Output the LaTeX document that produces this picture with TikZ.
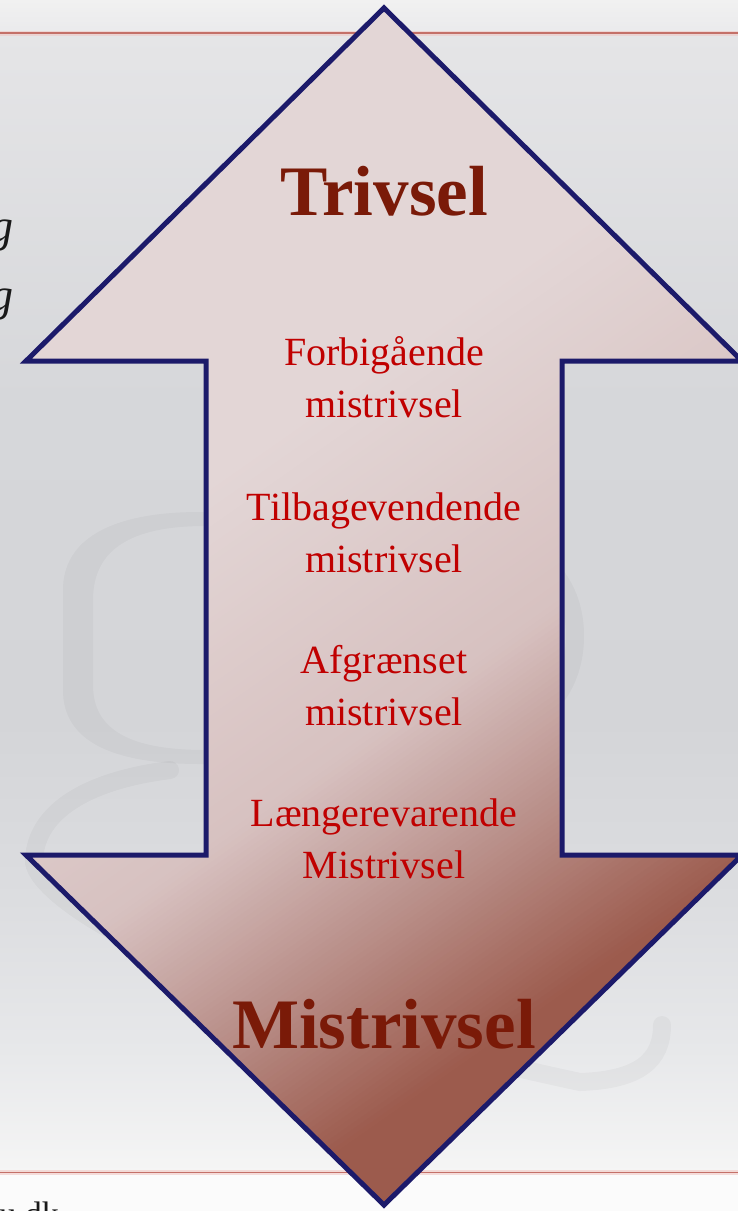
\documentclass[tikz,border=0pt]{standalone}
\usepackage{fontspec}
\setmainfont{Liberation Serif}
\definecolor{navyline}{RGB}{28,26,106}
\definecolor{darkred}{RGB}{122,26,8}
\definecolor{itemred}{RGB}{192,0,0}
\definecolor{redrule}{RGB}{196,112,104}
\definecolor{redhalo}{RGB}{240,200,196}
\definecolor{bgA}{RGB}{241,241,241}
\definecolor{bgB}{RGB}{234,234,236}
\definecolor{bgC}{RGB}{229,229,231}
\definecolor{bgD}{RGB}{214,215,218}
\definecolor{bgE}{RGB}{212,213,216}
\definecolor{bgF}{RGB}{220,221,224}
\definecolor{bgG}{RGB}{231,232,234}
\definecolor{bgH}{RGB}{245,245,245}
\definecolor{bgI}{RGB}{251,251,251}
\definecolor{gA}{RGB}{227,214,214}
\definecolor{gB}{RGB}{215,193,192}
\definecolor{gC}{RGB}{185,143,137}
\definecolor{gD}{RGB}{156,91,77}
\tikzset{
  rulestyle/.style={redrule, line width=1.8},
  halostyle/.style={redhalo, line width=5},
  wmark/.style={black, opacity=0.03},
  arrowline/.style={navyline, line width=5, line join=miter},
  bigword/.style={darkred, font=\fontsize{71}{80}\selectfont\bfseries, inner sep=0pt, anchor=base},
  itemtext/.style={itemred, font=\fontsize{40}{52}\selectfont, align=center, inner sep=0pt, anchor=base},
  gfrag/.style={black!90, font=\fontsize{46}{52}\selectfont\itshape, inner sep=0pt, anchor=base east},
  urltext/.style={black!90, font=\fontsize{34}{40}\selectfont, inner sep=0pt, anchor=base east}
}
\begin{document}
\begin{tikzpicture}[x=1pt,y=-1pt]
\useasboundingbox (0,0) rectangle (738,1211);
\clip (0,0) rectangle (738,1211);
% background
\shade[top color=bgA, bottom color=bgB] (0,0) rectangle (738,33);
\shade[top color=bgC, bottom color=bgD] (0,33) rectangle (738,400);
\shade[top color=bgD, bottom color=bgE] (0,400) rectangle (738,720);
\shade[top color=bgE, bottom color=bgF] (0,720) rectangle (738,900);
\shade[top color=bgF, bottom color=bgG] (0,900) rectangle (738,1050);
\shade[top color=bgG, bottom color=bgH] (0,1050) rectangle (738,1172);
\fill[bgI] (0,1172) rectangle (738,1211);
\draw[halostyle, opacity=0.6] (0,33) -- (738,33);
\draw[rulestyle] (0,33) -- (738,33);
\draw[halostyle, opacity=0.6] (0,1172.5) -- (738,1172.5);
\draw[rulestyle] (0,1172.5) -- (738,1172.5);
% watermark g
\fill[wmark, even odd rule]
  (63,640) -- (63,590) .. controls (63,540) and (110,512) .. (200,512) -- (400,512)
  .. controls (520,512) and (584,560) .. (584,636) .. controls (584,712) and (520,764) .. (400,764)
  -- (200,764) .. controls (110,764) and (63,740) .. (63,690) -- cycle
  (93,640) -- (93,600) .. controls (93,550) and (130,526) .. (205,526) -- (400,526)
  .. controls (505,526) and (566,565) .. (566,636) .. controls (566,707) and (505,750) .. (400,750)
  -- (205,750) .. controls (130,750) and (93,730) .. (93,685) -- cycle;
\draw[wmark, line width=18, line cap=round]
  (170,770) .. controls (90,780) and (36,810) .. (34,860)
  .. controls (32,890) and (150,990) .. (580,1082)
  .. controls (640,1080) and (662,1060) .. (662,1025);
% left fragments
\node[gfrag] (g1) at (14,241) {g};
\node[gfrag] (g2) at (14,310) {g};
\node[urltext] (url) at (59,1225) {u.dk};
% arrow fill
\begin{scope}
\clip (384,8) -- (742,361) -- (562,361) -- (562,855) -- (742,855) -- (384,1205)
  -- (26,855) -- (206,855) -- (206,361) -- (26,361) -- cycle;
\begin{scope}[shift={(384,607)}, rotate=-55]
\fill[gA] (-900,-900) rectangle (-199.5,900);
\foreach \i in {0,...,59}{
  \pgfmathsetmacro\tt{(\i+0.5)*100/60}
  \fill[gB!\tt!gA] (-200+5*\i,-900) rectangle (-194.3+5*\i,900);
}
\foreach \i in {0,...,31}{
  \pgfmathsetmacro\tt{(\i+0.5)*100/32}
  \fill[gC!\tt!gB] (100+5*\i,-900) rectangle (105.7+5*\i,900);
}
\foreach \i in {0,...,31}{
  \pgfmathsetmacro\tt{(\i+0.5)*100/32}
  \fill[gD!\tt!gC] (260+5*\i,-900) rectangle (265.7+5*\i,900);
}
\fill[gD] (419.5,-900) rectangle (900,900);
\end{scope}
\end{scope}
\draw[arrowline] (384,8) -- (742,361) -- (562,361) -- (562,855) -- (742,855) -- (384,1205)
  -- (26,855) -- (206,855) -- (206,361) -- (26,361) -- cycle;
% texts
\node[bigword] (trivsel) at (384,215) {Trivsel};
\node[bigword] (mistrivsel) at (384,1048) {Mistrivsel};
\node[itemtext] (i1) at (384,417) {Forbigående\\mistrivsel};
\node[itemtext] (i2) at (384,572) {Tilbagevendende\\mistrivsel};
\node[itemtext] (i3) at (384,725) {Afgrænset\\mistrivsel};
\node[itemtext] (i4) at (384,878) {Længerevarende\\Mistrivsel};
\end{tikzpicture}
\end{document}
